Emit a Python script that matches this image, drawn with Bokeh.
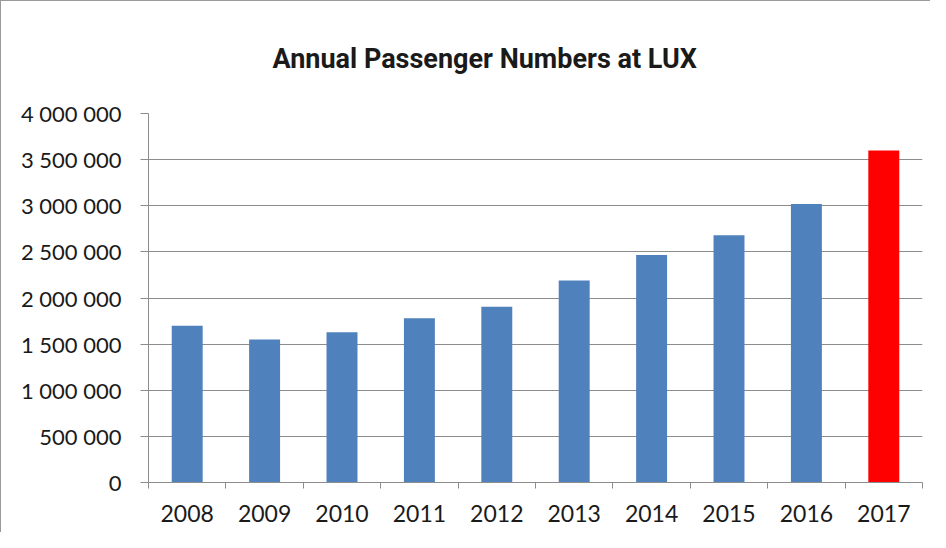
from bokeh.plotting import figure
from bokeh.models import Range1d, FixedTicker, Title
from bokeh.embed import file_html
from bokeh.resources import INLINE

years = [2008, 2009, 2010, 2011, 2012, 2013, 2014, 2015, 2016, 2017]
passengers = [1700000, 1550000, 1630000, 1780000, 1905000, 2190000, 2467000, 2680000, 3020000, 3600000]
bar_colors = ["#4F81BD"] * 9 + ["#FF0000"]
y_ticks = [0, 500000, 1000000, 1500000, 2000000, 2500000, 3000000, 3500000, 4000000]
y_labels = ["0", "500 000", "1 000 000", "1 500 000", "2 000 000", "2 500 000",
            "3 000 000", "3 500 000", "4 000 000"]
title_text = "Annual Passenger Numbers at LUX"

GRID = "#8c8c8c"
FONT = "Lato"

p = figure(width=930, height=532, output_backend="svg", toolbar_location=None,
           x_range=Range1d(years[0] - 0.5, years[-1] + 0.5),
           y_range=Range1d(0, 4000000),
           min_border_left=147, min_border_right=9, min_border_top=112, min_border_bottom=51,
           styles={"border-left": "1px solid #9a9a9a", "border-top": "1px solid #9a9a9a"})
p.outline_line_color = None

t = Title(text=title_text, align="left", offset=124, text_font="Roboto",
          text_font_size="27px", text_font_style="bold", text_color="#1a1a1a",
          vertical_align="top", standoff=74)
p.add_layout(t, "above")

p.vbar(x=years, top=passengers, width=0.4, fill_color=bar_colors, line_color=None)

# X axis: labels at years, ticks between categories
minor = [y - 0.5 for y in years] + [years[-1] + 0.5]
p.xaxis.ticker = FixedTicker(ticks=years, minor_ticks=minor)
p.xaxis.major_label_overrides = {y: str(y) for y in years}
p.xaxis.major_tick_line_color = None
p.xaxis.minor_tick_line_color = GRID
p.xaxis.minor_tick_out = 6
p.xaxis.minor_tick_in = 0
p.xaxis.axis_line_color = GRID
p.xaxis.major_label_text_font = FONT
p.xaxis.major_label_text_font_size = "23px"
p.xaxis.major_label_text_color = "#1a1a1a"
p.xaxis.major_label_standoff = 16
p.xgrid.grid_line_color = None

# Y axis
p.yaxis.ticker = FixedTicker(ticks=y_ticks)
p.yaxis.major_label_overrides = dict(zip(y_ticks, y_labels))
p.yaxis.axis_line_color = GRID
p.yaxis.major_tick_line_color = GRID
p.yaxis.major_tick_out = 8
p.yaxis.major_tick_in = 0
p.yaxis.minor_tick_line_color = None
p.yaxis.major_label_text_font = FONT
p.yaxis.major_label_text_font_size = "22px"
p.yaxis.major_label_text_color = "#1a1a1a"
p.yaxis.major_label_standoff = 19
p.ygrid.grid_line_color = GRID
p.ygrid.grid_line_width = 1

open("out.html", "w").write(file_html(p, INLINE))
